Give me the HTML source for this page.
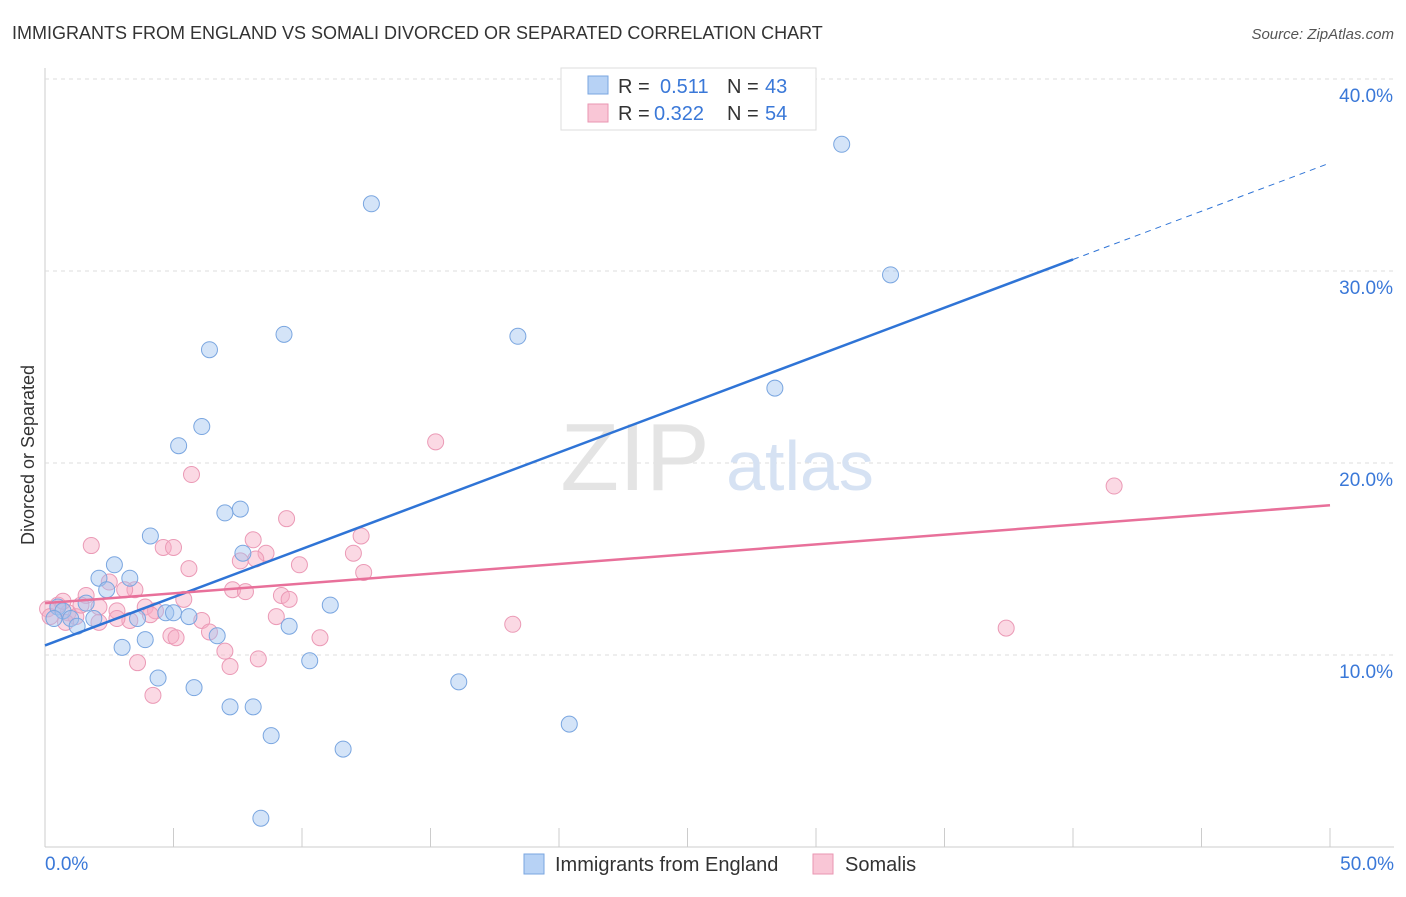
<!DOCTYPE html>
<html><head><meta charset="utf-8"><style>
body{margin:0;background:#fff;font-family:"Liberation Sans",sans-serif}
svg text{font-family:"Liberation Sans",sans-serif}
</style></head><body>
<svg width="1406" height="892">
<text x="12" y="39" font-size="18" fill="#333">IMMIGRANTS FROM ENGLAND VS SOMALI DIVORCED OR SEPARATED CORRELATION CHART</text>
<text x="1394" y="39" font-size="15" fill="#555" font-style="italic" text-anchor="end">Source: ZipAtlas.com</text>
<g id="grid"></g>
<text x="635" y="490" font-size="96" fill="#e4e4e4" font-family="Liberation Serif" text-anchor="middle">ZIP</text>
<text x="800" y="490" font-size="70" fill="#d6e2f3" text-anchor="middle">atlas</text>
<text transform="translate(34,455) rotate(-90)" font-size="18" fill="#333" text-anchor="middle">Divorced or Separated</text>
<g id="pts"></g>
<g id="trend"></g>
<g>
<rect x="561" y="68" width="255" height="62" fill="#fff" stroke="#ddd"/>
<rect x="588" y="76" width="20" height="18" fill="#b7d2f5" stroke="#7aa6e0"/>
<text x="618" y="93" font-size="20" fill="#333">R = </text><text x="660" y="93" font-size="20" fill="#3a78d8">0.511</text>
<text x="727" y="93" font-size="20" fill="#333">N = </text><text x="765" y="93" font-size="20" fill="#3a78d8">43</text>
<rect x="588" y="104" width="20" height="18" fill="#f9c6d6" stroke="#e996b2"/>
<text x="618" y="120" font-size="20" fill="#333">R = </text><text x="654" y="120" font-size="20" fill="#3a78d8">0.322</text>
<text x="727" y="120" font-size="20" fill="#333">N = </text><text x="765" y="120" font-size="20" fill="#3a78d8">54</text>
</g>
<g>
<rect x="524" y="854" width="20" height="20" fill="#b7d2f5" stroke="#7aa6e0"/>
<text x="555" y="871" font-size="20" fill="#333">Immigrants from England</text>
<rect x="813" y="854" width="20" height="20" fill="#f9c6d6" stroke="#e996b2"/>
<text x="845" y="871" font-size="20" fill="#333">Somalis</text>
</g>
</svg>
<script>
const xTicks=[0,5,10,15,20,25,30,35,40,45,50];
const yTicks=[10,20,30,40];
const blueX=[31.0,12.7,32.9,9.3,18.4,6.4,28.4,6.1,5.2,7.6,7.0,4.1,7.7,2.7,2.1,3.3,2.4,1.6,0.5,0.7,0.35,1.0,1.25,1.9,3.6,4.7,5.0,5.6,11.1,6.7,9.5,3.9,3.0,4.4,5.8,16.1,10.3,7.2,8.1,20.4,8.8,11.6,8.4];
const blueY=[36.6,33.5,29.8,26.7,26.6,25.9,23.9,21.9,20.9,17.6,17.4,16.2,15.3,14.7,14.0,14.0,13.4,12.7,12.5,12.3,11.9,11.9,11.5,11.9,11.9,12.2,12.2,12.0,12.6,11.0,11.5,10.8,10.4,8.8,8.3,8.6,9.7,7.3,7.3,6.4,5.8,5.1,1.5];
const pinkX=[15.2,41.6,5.7,9.4,12.3,8.1,1.8,4.6,5.0,12.0,8.6,7.6,8.2,5.6,9.9,12.4,2.5,3.5,3.1,7.3,7.8,9.2,5.4,1.6,3.9,2.1,2.8,4.3,0.9,0.5,0.1,1.2,3.3,6.1,9.0,18.2,37.4,2.1,0.8,4.9,6.4,10.7,5.1,7.0,7.2,8.3,3.6,4.2,2.8,0.2,1.4,4.1,9.5,0.7];
const pinkY=[21.1,18.8,19.4,17.1,16.2,16.0,15.7,15.6,15.6,15.3,15.3,14.9,15.0,14.5,14.7,14.3,13.8,13.4,13.4,13.4,13.3,13.1,12.9,13.1,12.5,12.5,12.3,12.3,12.2,12.6,12.4,12.0,11.8,11.8,12.0,11.6,11.4,11.7,11.7,11.0,11.2,10.9,10.9,10.2,9.4,9.8,9.6,7.9,11.9,12.0,12.6,12.1,12.9,12.8];
const blueTrend=[10.5,30.6];
const pinkTrend=[12.7,17.8];
const NS="http://www.w3.org/2000/svg";
const X=v=>45+v*25.7, Y=v=>847-v*19.2;
function mk(t,a,p){const e=document.createElementNS(NS,t);for(const k in a)e.setAttribute(k,a[k]);p.appendChild(e);return e;}
const g=document.getElementById('grid');
const ax=mk('line',{x1:45,y1:847,x2:1394,y2:847,stroke:'#ccc'},g);


const ay=mk('line',{x1:45,y1:68,x2:45,y2:847,stroke:'#ccc'},g);


xTicks.forEach(t=>{const l=mk('line',{x1:X(t),y1:847,x2:X(t),y2:t%10==0&&t!=0?828:828,stroke:'#ccc'},g);

});
[0,50].forEach((t,i)=>{const e=mk('text',{x:i?1394:45,y:870,'font-size':19,fill:'#3a78d8','text-anchor':i?'end':'start'},g);e.textContent=t.toFixed(1)+'%';

});
yTicks.forEach(t=>{const l=mk('line',{x1:45,y1:Y(t),x2:1394,y2:Y(t),stroke:'#ddd','stroke-dasharray':'4,4'},g);


const e=mk('text',{x:1393,y:Y(t)+23,'font-size':19,fill:'#3a78d8','text-anchor':'end'},g);e.textContent=t.toFixed(1)+'%';

});
const p=document.getElementById('pts');
pinkX.forEach((x,i)=>{const c=mk('circle',{cx:X(x),cy:Y(pinkY[i]),r:8,fill:'rgba(246,170,196,0.45)',stroke:'#eb9ab6','stroke-width':1},p);

});
blueX.forEach((x,i)=>{const c=mk('circle',{cx:X(x),cy:Y(blueY[i]),r:8,fill:'rgba(160,196,240,0.45)',stroke:'#7aa6e0','stroke-width':1},p);

});
const tr=document.getElementById('trend');
const by=x=>blueTrend[0]+(blueTrend[1]-blueTrend[0])*x/40;
const b1=mk('line',{x1:X(0),y1:Y(by(0)),x2:X(40),y2:Y(by(40)),stroke:'#2f74d6','stroke-width':2.5},tr);


const b2=mk('line',{x1:X(40),y1:Y(by(40)),x2:X(50),y2:Y(by(50)),stroke:'#2f74d6','stroke-width':1,'stroke-dasharray':'6,5'},tr);


const pl=mk('line',{x1:X(0),y1:Y(pinkTrend[0]),x2:X(50),y2:Y(pinkTrend[1]),stroke:'#e8709a','stroke-width':2.5},tr);


</script>
</body></html>
